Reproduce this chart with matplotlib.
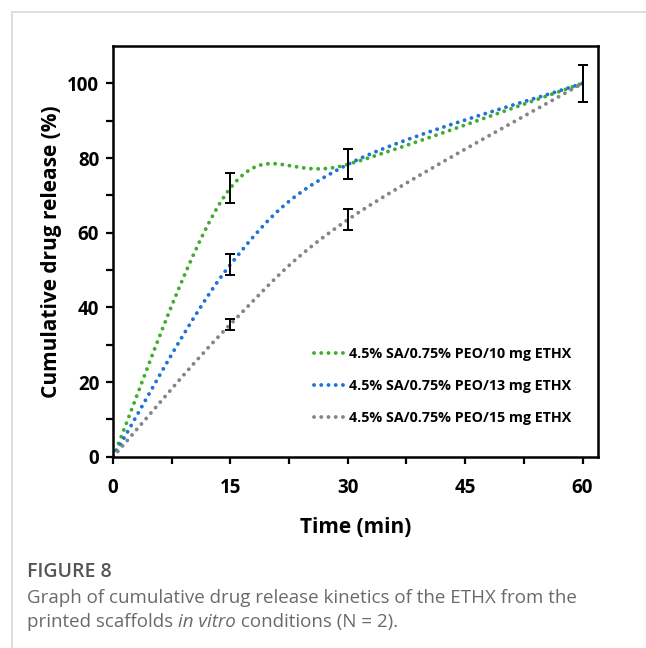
import numpy as np
import matplotlib.pyplot as plt
from matplotlib.lines import Line2D

# data
time_min = [0, 15, 30, 60]
rel_10mg = [0, 72, 78.3, 100]
rel_13mg = [0, 51.5, 78.3, 100]
rel_15mg = [0, 35.5, 63.5, 100]
err_10mg = [0, 4, 4, 5]
err_13mg = [0, 2.8, 4, 5]
err_15mg = [0, 1.5, 2.8, 5]
labels = ['4.5% SA/0.75% PEO/10 mg ETHX',
          '4.5% SA/0.75% PEO/13 mg ETHX',
          '4.5% SA/0.75% PEO/15 mg ETHX']
colors = ['#3fae2c', '#1f72d6', '#858585']


def excel_smooth(x, y, n=60):
    # Excel-like smoothed line: cubic bezier with catmull-rom control points
    p = np.column_stack([x, y]).astype(float)
    p = np.vstack([p[0], p, p[-1]])
    t = np.linspace(0, 1, n)[:, None]
    out = []
    for i in range(1, len(p) - 2):
        p0, p1, p2, p3 = p[i - 1], p[i], p[i + 1], p[i + 2]
        c1 = p1 + (p2 - p0) / 6
        c2 = p2 - (p3 - p1) / 6
        seg = ((1 - t) ** 3) * p1 + 3 * ((1 - t) ** 2) * t * c1 + 3 * (1 - t) * t ** 2 * c2 + t ** 3 * p2
        out.append(seg)
    out = np.vstack(out)
    return out[:, 0], out[:, 1]


plt.rcParams['font.family'] = ['Open Sans', 'DejaVu Sans']

fig = plt.figure(figsize=(6.46, 6.48), dpi=100)
ax = fig.add_axes([0.175, 0.295, 0.751, 0.634])

dots = dict(lw=2.8, dashes=(0.01, 1.85), dash_capstyle='round')
series = [(rel_10mg, err_10mg), (rel_13mg, err_13mg), (rel_15mg, err_15mg)]
for (y, e), c, lab in zip(series, colors, labels):
    xs, ys = excel_smooth(time_min, y)
    ax.plot(xs, ys, color=c, label=lab, **dots)
    ax.errorbar(time_min[1:], y[1:], yerr=e[1:], fmt='none', ecolor='black',
                elinewidth=1.4, capsize=3.5, capthick=1.4)

ax.set_xlim(0, 62)
ax.set_ylim(0, 110)
ax.set_xticks([0, 15, 30, 45, 60])
ax.set_xticks([7.5, 22.5, 37.5, 52.5], minor=True)
ax.set_yticks([0, 20, 40, 60, 80, 100])
ax.set_yticks([10, 30, 50, 70, 90], minor=True)
ax.tick_params(which='both', direction='out', width=1.6, length=5, labelsize=13.5, pad=5)
ax.tick_params(axis='x', which='both', pad=10)
for lab in ax.get_xticklabels() + ax.get_yticklabels():
    lab.set_fontweight('bold')
for s in ax.spines.values():
    s.set_linewidth(1.8)

ax.set_xlabel('Time (min)', fontsize=15, fontweight='bold', labelpad=14)
ax.set_ylabel('Cumulative drug release (%)', fontsize=15, fontweight='bold', labelpad=4)

handles = [Line2D([0], [0], color=c, **dots) for c in colors]
leg = ax.legend(handles, labels, loc='lower right', bbox_to_anchor=(0.96, 0.06), frameon=False,
                prop={'weight': 'bold', 'size': 10.3}, handlelength=2.3, handletextpad=0.2,
                labelspacing=1.25, borderpad=0)

# frame and caption
fig.add_artist(Line2D([12 / 646, 1], [1 - 12 / 648, 1 - 12 / 648], color='#d9d9d9', lw=1.2))
fig.add_artist(Line2D([12 / 646, 12 / 646], [0, 1 - 12 / 648], color='#d9d9d9', lw=1.2))
fig.text(27 / 646, 1 - 572 / 648, 'FIGURE 8', fontsize=14, color='#555555', va='center',
         fontweight='semibold')
cap_kw = dict(fontsize=13.5, color='#6a6a6a', va='center')
fig.text(27 / 646, 1 - 598 / 648, 'Graph of cumulative drug release kinetics of the ETHX from the', **cap_kw)

# second caption line with italic part, placed piece by piece
renderer = fig.canvas.get_renderer()
x0 = 27 / 646
for txt, style in [('printed scaffolds ', 'normal'), ('in vitro', 'italic'), (' conditions (N = 2).', 'normal')]:
    t = fig.text(x0, 1 - 622 / 648, txt, style=style, **cap_kw)
    bb = t.get_window_extent(renderer)
    x0 += bb.width / fig.bbox.width

fig.savefig('out.png', dpi=100)
